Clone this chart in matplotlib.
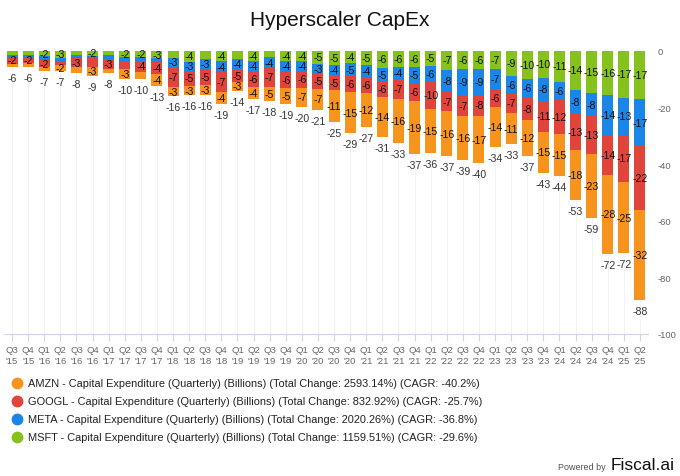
import matplotlib
matplotlib.use("Agg")
import matplotlib.pyplot as plt
from matplotlib.lines import Line2D
import numpy as np

plt.rcParams['font.family'] = ['Liberation Sans', 'DejaVu Sans']

quarters = ["Q3\n'15", "Q4\n'15",
            "Q1\n'16", "Q2\n'16", "Q3\n'16", "Q4\n'16",
            "Q1\n'17", "Q2\n'17", "Q3\n'17", "Q4\n'17",
            "Q1\n'18", "Q2\n'18", "Q3\n'18", "Q4\n'18",
            "Q1\n'19", "Q2\n'19", "Q3\n'19", "Q4\n'19",
            "Q1\n'20", "Q2\n'20", "Q3\n'20", "Q4\n'20",
            "Q1\n'21", "Q2\n'21", "Q3\n'21", "Q4\n'21",
            "Q1\n'22", "Q2\n'22", "Q3\n'22", "Q4\n'22",
            "Q1\n'23", "Q2\n'23", "Q3\n'23", "Q4\n'23",
            "Q1\n'24", "Q2\n'24", "Q3\n'24", "Q4\n'24",
            "Q1\n'25", "Q2\n'25"]

# Capital expenditure, billions (shown as negative values)
msft = [1.4, 1.4, 2.0, 2.6, 1.4, 1.8, 1.4, 2.2, 2.2, 2.7,
        2.6, 3.9, 3.1, 3.8, 2.9, 3.6, 2.4, 3.5, 3.6, 4.6,
        4.9, 4.4, 5.0, 6.2, 5.8, 5.9, 5.3, 6.9, 6.3, 6.3,
        6.6, 8.9, 9.9, 9.7, 10.9, 13.9, 14.9, 15.8, 16.7, 17.1]
meta = [0.8, 0.8, 1.4, 0.9, 1.2, 0.9, 1.7, 1.3, 1.3, 1.4,
        3.0, 3.2, 3.49, 3.7, 3.6, 3.7, 3.7, 3.6, 3.6, 3.4,
        3.7, 4.7, 4.3, 4.6, 4.3, 5.4, 5.5, 7.7, 9.4, 9.2,
        6.8, 6.2, 6.5, 7.9, 6.4, 8.2, 8.3, 14.1, 12.9, 16.6]
googl = [2.4, 2.3, 2.3, 1.6, 3.2, 3.0, 3.4, 3.1, 4.0, 4.2,
         7.3, 5.4, 5.49, 7.0, 4.6, 5.6, 6.6, 6.2, 5.9, 5.4,
         5.4, 5.5, 5.6, 5.5, 6.8, 6.4, 9.8, 6.8, 7.3, 7.6,
         6.3, 6.9, 8.1, 11.0, 12.0, 13.1, 13.1, 14.1, 16.8, 22.4]
amzn = [1.2, 1.4, 1.3, 2.0, 2.0, 3.2, 1.4, 3.4, 2.5, 4.3,
        3.1, 3.3, 3.49, 4.2, 3.0, 4.0, 5.0, 5.4, 6.8, 7.4,
        11.0, 14.6, 12.1, 14.3, 15.7, 18.9, 15.4, 15.7, 15.7, 16.6,
        14.2, 11.0, 12.5, 14.6, 14.9, 17.6, 22.6, 27.6, 25.1, 31.8]

series_names = ["AMZN", "GOOGL", "META", "MSFT"]
series_vals = {"AMZN": amzn, "GOOGL": googl, "META": meta, "MSFT": msft}
colors = {"AMZN": "#F7941D", "GOOGL": "#E0443A", "META": "#1A86E8", "MSFT": "#86C11C"}
legend_texts = {
    "AMZN": "AMZN - Capital Expenditure (Quarterly) (Billions) (Total Change: 2593.14%) (CAGR: -40.2%)",
    "GOOGL": "GOOGL - Capital Expenditure (Quarterly) (Billions) (Total Change: 832.92%) (CAGR: -25.7%)",
    "META": "META - Capital Expenditure (Quarterly) (Billions) (Total Change: 2020.26%) (CAGR: -36.8%)",
    "MSFT": "MSFT - Capital Expenditure (Quarterly) (Billions) (Total Change: 1159.51%) (CAGR: -29.6%)",
}
stack_order = ["MSFT", "META", "GOOGL", "AMZN"]  # from zero downward

fig = plt.figure(figsize=(6.8, 4.77), dpi=100)
ax = fig.add_axes([4 / 680, 1 - 335 / 477, 644 / 680, (335 - 51.7) / 477])

x = np.arange(len(quarters))
n = len(quarters)
cum = np.zeros(n)
centers = {}
for s in stack_order:
    v = np.array(series_vals[s], dtype=float)
    ax.bar(x, -v, bottom=-cum, width=0.68, color=colors[s], zorder=2, linewidth=0)
    centers[s] = cum + v / 2
    cum = cum + v

# data labels, hiding ones that collide inside a column (bigger segment wins)
for i in range(n):
    cands = [s for s in stack_order if series_vals[s][i] >= 1.5]
    cands.sort(key=lambda s: -series_vals[s][i])
    shown = []
    for s in cands:
        if all(abs(centers[s][i] - centers[t][i]) >= 3.45 for t in shown):
            shown.append(s)
    for s in shown:
        ax.text(x[i], -centers[s][i], f"{-series_vals[s][i]:.0f}", ha='center', va='center',
                fontsize=7.6, color='#111111', zorder=4)
    ax.annotate(f"{-cum[i]:.0f}", (x[i], -cum[i]), xytext=(0, -11), textcoords='offset pixels',
                ha='center', va='center', fontsize=7.6, color='#333333', zorder=4)

ax.set_xlim(-0.5, n - 0.5)
ax.set_ylim(-100, 0)
ax.set_xticks(x)
ax.set_xticklabels(quarters, fontsize=6.8, color='#666666', linespacing=1.3)
ax.yaxis.tick_right()
ax.set_yticks([0, -20, -40, -60, -80, -100])
ax.set_yticklabels(["0", "-20", "-40", "-60", "-80", "-100"], fontsize=6.8, color='#666666')
ax.tick_params(axis='y', length=0, pad=7)
ax.tick_params(axis='x', length=5, color='#ccd6eb', width=0.8, pad=3)
for sp in ['top', 'left', 'right']:
    ax.spines[sp].set_visible(False)
ax.spines['bottom'].set_color('#ccd6eb')
ax.spines['bottom'].set_linewidth(0.8)
ax.grid(axis='x', color='#f2f2f2', linewidth=0.8, zorder=0)
ax.set_axisbelow(True)

fig.text(0.5, 1 - 20 / 477, "Hyperscaler CapEx", ha='center', va='center', fontsize=15, color='#111111')

# legend
for k, s in enumerate(series_names):
    yy = 1 - (384 + 18 * k) / 477
    fig.add_artist(Line2D([17 / 680], [yy], marker='o', markersize=7.5, color=colors[s],
                          linestyle='', transform=fig.transFigure))
    fig.text(28 / 680, yy, legend_texts[s], ha='left', va='center', fontsize=7.9, color='#222222')

fig.text(606 / 680, 1 - 468 / 477, "Powered by", ha='right', va='center', fontsize=6.5, color='#555555')
fig.text(611 / 680, 1 - 466 / 477, "Fiscal.ai", ha='left', va='center', fontsize=12.5, color='#111111')

fig.savefig("out.png", dpi=100)
